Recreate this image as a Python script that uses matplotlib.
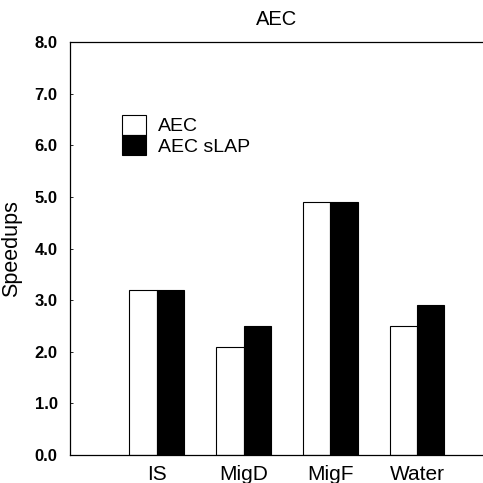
import numpy as np
import matplotlib
matplotlib.use('Agg')
import matplotlib.pyplot as plt

### Speedup values
categories = ['IS', 'MigD', 'MigF', 'Water']
aec = [3.2, 2.1, 4.9, 2.5]
aec_slap = [3.2, 2.5, 4.9, 2.9]
yticks = [0.0, 1.0, 2.0, 3.0, 4.0, 5.0, 6.0, 7.0, 8.0]

plt.rcParams['font.family'] = ['Liberation Sans', 'DejaVu Sans']

fig = plt.figure(figsize=(4.83, 4.83), dpi=100)
ax = fig.add_axes([0.145, 0.058, 0.855, 0.855])

x = np.arange(1, len(categories) + 1)
w = 0.316
ax.bar(x - w / 2, aec, w, color='white', edgecolor='black', linewidth=0.8, label='AEC')
ax.bar(x + w / 2, aec_slap, w, color='black', edgecolor='black', linewidth=0.8, label='AEC sLAP')

ax.set_xlim(0, 4.76)
ax.set_ylim(0, 8)
ax.set_yticks(yticks)
ax.set_yticklabels(['%.1f' % t for t in yticks], fontsize=12, fontweight='bold')
ax.set_xticks(x)
ax.set_xticklabels(categories, fontsize=15)
ax.tick_params(axis='y', direction='in', length=2, width=0.6, pad=9)
ax.tick_params(axis='x', length=0, pad=7)

ax.spines['right'].set_visible(False)
for s in ['left', 'bottom', 'top']:
    ax.spines[s].set_linewidth(0.9)

ax.set_ylabel('Speedups', fontsize=15.5, labelpad=9)
ax.set_title('AEC', fontsize=14.5, pad=12)

ax.legend(loc='upper left', bbox_to_anchor=(0.126, 0.823), frameon=False,
          fontsize=14, handlelength=1.25, handleheight=1.17, labelspacing=0.0,
          handletextpad=0.6, borderaxespad=0, borderpad=0)

plt.savefig('out.png', dpi=100)
